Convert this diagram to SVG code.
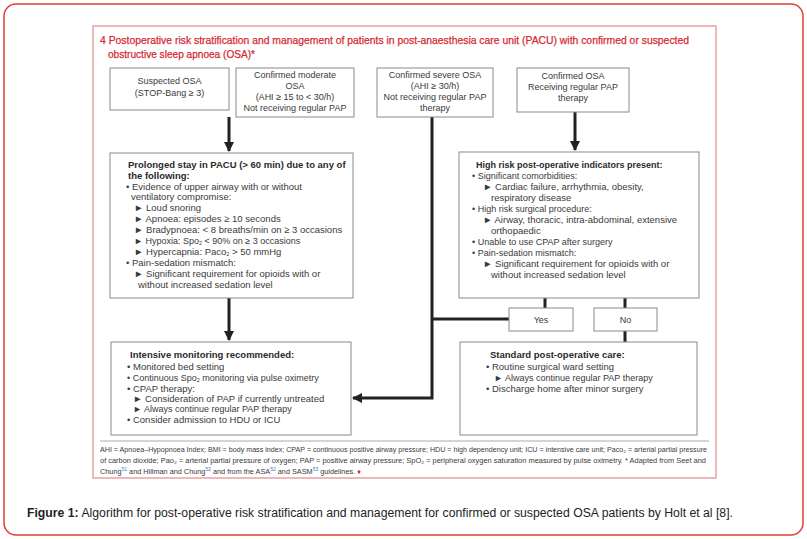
<svg xmlns="http://www.w3.org/2000/svg" width="807" height="539" viewBox="0 0 807 539">
<style>
.box{fill:#fff;stroke:#8a8a8a;stroke-width:1}
.t{font-family:"Liberation Sans",Arial,sans-serif;font-size:9px;fill:#3a3a3a}
.m{font-size:9.5px}
.c{text-anchor:middle}
.b{font-weight:bold;fill:#2a2a2a}
.con{fill:none;stroke:#222;stroke-width:3}
.fn{font-family:"Liberation Sans","DejaVu Sans",Arial,sans-serif;font-size:7.3px;fill:#3a3a3a}
.sup{fill:#3a7bd5;font-size:5px}
.sub{font-size:5.5px}
</style>
<defs>
<marker id="ah" viewBox="0 0 10 10" refX="9" refY="5" markerWidth="3.6" markerHeight="3.4" orient="auto" markerUnits="strokeWidth">
<path d="M0,0 L10,5 L0,10 z" fill="#222"/>
</marker>
</defs>
<rect x="4" y="4" width="799" height="531" rx="12" fill="#fff" stroke="#e0403a" stroke-width="1.5"/>
<rect x="93" y="26" width="623" height="452" fill="#fff" stroke="#eaa0a4" stroke-width="1.5"/>
<text x="100" y="44" font-family="Liberation Sans,Arial,sans-serif" font-size="11" fill="#d42a33" stroke="#d42a33" stroke-width="0.25" textLength="589" lengthAdjust="spacingAndGlyphs">4  Postoperative risk stratification and management of patients in post-anaesthesia care unit (PACU) with confirmed or suspected</text>
<text x="108" y="58" font-family="Liberation Sans,Arial,sans-serif" font-size="11" fill="#d42a33" stroke="#d42a33" stroke-width="0.25" textLength="147" lengthAdjust="spacingAndGlyphs">obstructive sleep apnoea (OSA)*</text>

<g id="connectors">
<path class="con" d="M229,117 V151" marker-end="url(#ah)"/>
<path class="con" d="M575,112 V150" marker-end="url(#ah)"/>
<path class="con" d="M229,298 V340" marker-end="url(#ah)"/>
<path class="con" d="M432,117 V398 H353" marker-end="url(#ah)"/>
<path class="con" d="M432,319 H509"/>
<path class="con" d="M545,298 V308"/>
<path class="con" d="M625,298 V308"/>
<path class="con" d="M625,331 V342"/>
</g>

<g id="n1">
<rect class="box" x="110" y="68" width="119" height="42"/>
<text class="t c" x="169.5" y="84">Suspected OSA</text>
<text class="t c" x="169.5" y="96">(STOP-Bang ≥ 3)</text>
</g>
<g id="n2">
<rect class="box" x="236" y="68" width="118" height="49"/>
<text class="t c" x="295" y="78">Confirmed moderate</text>
<text class="t c" x="295" y="89">OSA</text>
<text class="t c" x="295" y="100">(AHI ≥ 15 to &lt; 30/h)</text>
<text class="t c" x="295" y="111" font-size="8.5">Not receiving regular PAP</text>
</g>
<g id="n3">
<rect class="box" x="377" y="68" width="116" height="49"/>
<text class="t c" x="435" y="78">Confirmed severe OSA</text>
<text class="t c" x="435" y="89">(AHI ≥ 30/h)</text>
<text class="t c" x="435" y="100">Not receiving regular PAP</text>
<text class="t c" x="435" y="111">therapy</text>
</g>
<g id="n4">
<rect class="box" x="517" y="68" width="112" height="44"/>
<text class="t c" x="573" y="79">Confirmed OSA</text>
<text class="t c" x="573" y="90">Receiving regular PAP</text>
<text class="t c" x="573" y="101">therapy</text>
</g>

<g id="n5">
<rect class="box" x="110" y="153" width="243" height="145"/>
<text class="t m b" x="128" y="168">Prolonged stay in PACU (&gt; 60 min) due to any of</text>
<text class="t m b" x="128" y="179">the following:</text>
<text class="t m" x="126" y="190">• Evidence of upper airway with or without</text>
<text class="t m" x="131" y="200">ventilatory compromise:</text>
<text class="t m" x="134" y="211">► Loud snoring</text>
<text class="t m" x="134" y="222">► Apnoea: episodes ≥ 10 seconds</text>
<text class="t m" x="134" y="233">► Bradypnoea: &lt; 8 breaths/min on ≥ 3 occasions</text>
<text class="t" x="134" y="244">► Hypoxia: Spo<tspan class="sub" baseline-shift="-1">2</tspan> &lt; 90% on ≥ 3 occasions</text>
<text class="t m" x="134" y="255">► Hypercapnia: Paco<tspan class="sub" baseline-shift="-1">2</tspan> &gt; 50 mmHg</text>
<text class="t m" x="126" y="266">• Pain-sedation mismatch:</text>
<text class="t m" x="134" y="277">► Significant requirement for opioids with or</text>
<text class="t m" x="138" y="288">without increased sedation level</text>
</g>

<g id="n6">
<rect class="box" x="459" y="152" width="240" height="146"/>
<text class="t b" x="476" y="168">High risk post-operative indicators present:</text>
<text class="t" x="472" y="179">• Significant comorbidities:</text>
<text class="t m" x="483" y="190">► Cardiac failure, arrhythmia, obesity,</text>
<text class="t m" x="491" y="201">respiratory disease</text>
<text class="t" x="472" y="212">• High risk surgical procedure:</text>
<text class="t m" x="483" y="223">► Airway, thoracic, intra-abdominal, extensive</text>
<text class="t m" x="491" y="234">orthopaedic</text>
<text class="t" x="472" y="245">• Unable to use CPAP after surgery</text>
<text class="t" x="472" y="256">• Pain-sedation mismatch:</text>
<text class="t m" x="483" y="267">► Significant requirement for opioids with or</text>
<text class="t m" x="491" y="278">without increased sedation level</text>
</g>

<g id="n7">
<rect class="box" x="509" y="308" width="64" height="23"/>
<text class="t c" x="541" y="323">Yes</text>
</g>
<g id="n8">
<rect class="box" x="594" y="308" width="63" height="23"/>
<text class="t c" x="625.5" y="323">No</text>
</g>

<g id="n9">
<rect class="box" x="111" y="342" width="240" height="93"/>
<text class="t m b" x="130" y="358">Intensive monitoring recommended:</text>
<text class="t m" x="127" y="370">• Monitored bed setting</text>
<text class="t" x="127" y="381">• Continuous Spo<tspan class="sub" baseline-shift="-1">2</tspan> monitoring via pulse oximetry</text>
<text class="t m" x="127" y="392">• CPAP therapy:</text>
<text class="t m" x="133" y="402">► Consideration of PAP if currently untreated</text>
<text class="t" x="133" y="412">► Always continue regular PAP therapy</text>
<text class="t m" x="127" y="423">• Consider admission to HDU or ICU</text>
</g>

<g id="n10">
<rect class="box" x="460" y="342" width="237" height="93"/>
<text class="t m b" x="490" y="358">Standard post-operative care:</text>
<text class="t m" x="486" y="370">• Routine surgical ward setting</text>
<text class="t" x="494" y="381">► Always continue regular PAP therapy</text>
<text class="t m" x="486" y="392">• Discharge home after minor surgery</text>
</g>

<line x1="100" y1="441" x2="709" y2="441" stroke="#aaa" stroke-width="1"/>
<text class="fn" x="100" y="452" textLength="607" lengthAdjust="spacingAndGlyphs">AHI = Apnoea–Hypopnoea Index; BMI = body mass index; CPAP = continuous positive airway pressure; HDU = high dependency unit; ICU = intensive care unit; Paco₂ = arterial partial pressure</text>
<text class="fn" x="100" y="463" textLength="606" lengthAdjust="spacingAndGlyphs">of carbon dioxide; Pao₂ = arterial partial pressure of oxygen; PAP = positive airway pressure; SpO₂ = peripheral oxygen saturation measured by pulse oximetry. * Adapted from Seet and</text>
<text class="fn" x="100" y="474">Chung<tspan class="sup" baseline-shift="super">51</tspan> and Hillman and Chung<tspan class="sup" baseline-shift="super">52</tspan> and from the ASA<tspan class="sup" baseline-shift="super">52</tspan> and SASM<tspan class="sup" baseline-shift="super">53</tspan> guidelines.  <tspan fill="#d42a33">♦</tspan></text>

<text x="27" y="517" font-family="Liberation Sans,Arial,sans-serif" font-size="12.5" fill="#222" textLength="706" lengthAdjust="spacingAndGlyphs"><tspan font-weight="bold">Figure 1:</tspan>  Algorithm for post-operative risk stratification and management for confirmed or suspected OSA patients by Holt et al [8].</text>
</svg>
